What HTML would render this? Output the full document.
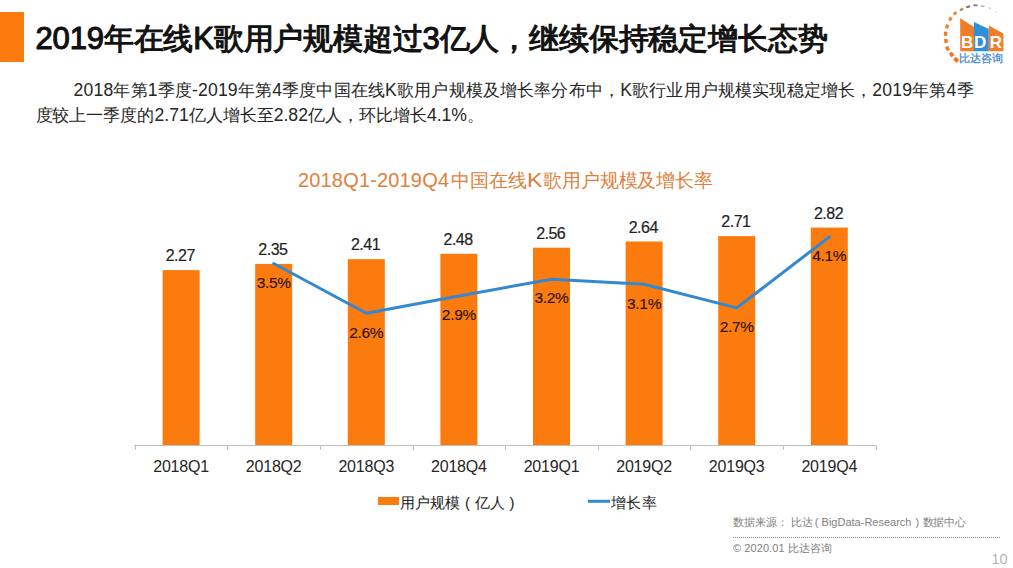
<!DOCTYPE html>
<html><head><meta charset="utf-8"><style>
html,body{margin:0;padding:0;background:#fff;}
body{width:1013px;height:568px;position:relative;overflow:hidden;font-family:"Liberation Sans",sans-serif;}
svg{position:absolute;left:0;top:0;}
text{font-family:"Liberation Sans",sans-serif;white-space:pre;}
.title{font-size:30px;fill:#111;stroke:#111;stroke-width:1.1px;}
.sub{font-size:17px;fill:#262626;}
.ctitle{font-size:19px;fill:#E07F3C;}
.vl{font-size:16px;fill:#1e1e1e;stroke:#1e1e1e;stroke-width:0.2px;text-anchor:middle;letter-spacing:-0.5px;}
.pl{font-size:15.5px;fill:#2b1408;stroke:#2b1408;stroke-width:0.12px;text-anchor:middle;letter-spacing:-0.3px;}
.al{font-size:16px;fill:#262626;text-anchor:middle;letter-spacing:-0.2px;}
.leg{font-size:15px;fill:#222;}
.foot{font-size:11px;fill:#808080;}
.pg{font-size:13px;fill:#B3B3B3;}
</style></head><body>
<svg width="1013" height="568" viewBox="0 0 1013 568">
<rect x="0" y="12" width="24" height="50" fill="#FC7B0E"/>
<text class="title" x="35.5" y="48.6" textLength="792" lengthAdjust="spacing"><tspan style="font-size:31px">2019</tspan>年在线<tspan style="font-size:31px">K</tspan>歌用户规模超过<tspan style="font-size:31px">3</tspan>亿人，继续保持稳定增长态势</text>
<text class="sub" x="73.5" y="95.7" textLength="900" lengthAdjust="spacing"><tspan style="font-size:17.6px">2018</tspan>年第<tspan style="font-size:17.6px">1</tspan>季度<tspan style="font-size:17.6px">-2019</tspan>年第<tspan style="font-size:17.6px">4</tspan>季度中国在线<tspan style="font-size:17.6px">K</tspan>歌用户规模及增长率分布中，<tspan style="font-size:17.6px">K</tspan>歌行业用户规模实现稳定增长，<tspan style="font-size:17.6px">2019</tspan>年第<tspan style="font-size:17.6px">4</tspan>季</text>
<text class="sub" x="35.5" y="120.9" textLength="448.5" lengthAdjust="spacing">度较上一季度的<tspan style="font-size:17.6px">2.71</tspan>亿人增长至<tspan style="font-size:17.6px">2.82</tspan>亿人，环比增长<tspan style="font-size:17.6px">4.1%</tspan>。</text>
<text class="ctitle" x="298" y="187.1" style="font-size:20px" textLength="151" lengthAdjust="spacing">2018Q1-2019Q4</text>
<text class="ctitle" x="450.5" y="187.1" textLength="76" lengthAdjust="spacing">中国在线</text>
<text class="ctitle" x="527" y="187.1" style="font-size:20px" textLength="15.5" lengthAdjust="spacingAndGlyphs">K</text>
<text class="ctitle" x="543" y="187.1" textLength="170" lengthAdjust="spacing">歌用户规模及增长率</text>
<rect x="162.6" y="270.1" width="37" height="175.2" fill="#FC7B0E"/>
<rect x="255.2" y="263.9" width="37" height="181.4" fill="#FC7B0E"/>
<rect x="347.8" y="259.2" width="37" height="186.1" fill="#FC7B0E"/>
<rect x="440.4" y="253.8" width="37" height="191.5" fill="#FC7B0E"/>
<rect x="533.0" y="247.7" width="37" height="197.6" fill="#FC7B0E"/>
<rect x="625.6" y="241.5" width="37" height="203.8" fill="#FC7B0E"/>
<rect x="718.2" y="236.1" width="37" height="209.2" fill="#FC7B0E"/>
<rect x="810.8" y="227.6" width="37" height="217.7" fill="#FC7B0E"/>
<line x1="134" y1="445.5" x2="876.5" y2="445.5" stroke="#BFBFBF" stroke-width="1"/>
<line x1="135.5" y1="445" x2="135.5" y2="450" stroke="#BFBFBF" stroke-width="1"/>
<line x1="227.5" y1="445" x2="227.5" y2="450" stroke="#BFBFBF" stroke-width="1"/>
<line x1="320.5" y1="445" x2="320.5" y2="450" stroke="#BFBFBF" stroke-width="1"/>
<line x1="413.5" y1="445" x2="413.5" y2="450" stroke="#BFBFBF" stroke-width="1"/>
<line x1="505.5" y1="445" x2="505.5" y2="450" stroke="#BFBFBF" stroke-width="1"/>
<line x1="598.5" y1="445" x2="598.5" y2="450" stroke="#BFBFBF" stroke-width="1"/>
<line x1="690.5" y1="445" x2="690.5" y2="450" stroke="#BFBFBF" stroke-width="1"/>
<line x1="783.5" y1="445" x2="783.5" y2="450" stroke="#BFBFBF" stroke-width="1"/>
<line x1="876.5" y1="445" x2="876.5" y2="450" stroke="#BFBFBF" stroke-width="1"/>
<polyline points="273.7,263.5 366.3,313.3 458.9,296 551.5,279.2 644.1,284.2 736.7,307.9 829.3,237" fill="none" stroke="#3389D0" stroke-width="3" stroke-linejoin="round" stroke-linecap="round"/>
<text x="180.3" y="261.1" class="vl">2.27</text>
<text x="272.9" y="254.9" class="vl">2.35</text>
<text x="365.5" y="250.2" class="vl">2.41</text>
<text x="458.1" y="244.8" class="vl">2.48</text>
<text x="550.7" y="238.7" class="vl">2.56</text>
<text x="643.3" y="232.5" class="vl">2.64</text>
<text x="735.9" y="227.1" class="vl">2.71</text>
<text x="828.5" y="218.6" class="vl">2.82</text>
<text x="273.7" y="287.8" class="pl">3.5%</text>
<text x="366.3" y="338.0" class="pl">2.6%</text>
<text x="458.9" y="319.6" class="pl">2.9%</text>
<text x="551.5" y="303.2" class="pl">3.2%</text>
<text x="644.1" y="309.2" class="pl">3.1%</text>
<text x="736.7" y="332.4" class="pl">2.7%</text>
<text x="829.3" y="260.6" class="pl">4.1%</text>
<text x="181.1" y="472" class="al">2018Q1</text>
<text x="273.7" y="472" class="al">2018Q2</text>
<text x="366.3" y="472" class="al">2018Q3</text>
<text x="458.9" y="472" class="al">2018Q4</text>
<text x="551.5" y="472" class="al">2019Q1</text>
<text x="644.1" y="472" class="al">2019Q2</text>
<text x="736.7" y="472" class="al">2019Q3</text>
<text x="829.3" y="472" class="al">2019Q4</text>
<rect x="378" y="497" width="21" height="8" fill="#FC7B0E"/>
<line x1="588" y1="501.3" x2="610" y2="501.3" stroke="#3389D0" stroke-width="3"/>
<text class="leg" x="400" y="507.5">用户规模</text>
<text class="leg" x="465" y="507.5">(</text>
<text class="leg" x="475" y="507.5">亿人</text>
<text class="leg" x="509.6" y="507.5">)</text>
<text class="leg" x="610.5" y="507.5" textLength="46" lengthAdjust="spacing">增长率</text>
<text class="foot" x="733" y="525.5">数据来源： 比达</text>
<text class="foot" x="814.8" y="525.5">(</text>
<text class="foot" x="821.6" y="525.5">BigData-Research</text>
<text class="foot" x="915.6" y="525.5">)</text>
<text class="foot" x="922.5" y="525.5" textLength="43" lengthAdjust="spacing">数据中心</text>
<line x1="733" y1="537.5" x2="1001" y2="537.5" stroke="#8c8c8c" stroke-width="1" stroke-dasharray="1,1"/>
<text class="foot" x="733" y="552" textLength="99" lengthAdjust="spacing">© 2020.01 比达咨询</text>
<text class="pg" x="991.5" y="563.5" style="font-size:15px" textLength="16" lengthAdjust="spacingAndGlyphs">10</text>
<g id="logo">
<rect x="-2.40" y="-2.00" width="4.80" height="4.00" rx="0.6" fill="#F07820" opacity="1" transform="translate(956.20,59.80) rotate(220.3)"/>
<rect x="-2.30" y="-1.90" width="4.60" height="3.80" rx="0.6" fill="#F07820" opacity="1" transform="translate(951.60,54.50) rotate(233.3)"/>
<rect x="-2.20" y="-1.80" width="4.40" height="3.60" rx="0.6" fill="#F07A22" opacity="1" transform="translate(947.50,48.50) rotate(246.6)"/>
<rect x="-2.10" y="-1.75" width="4.20" height="3.50" rx="0.6" fill="#F07C26" opacity="1" transform="translate(946.00,40.90) rotate(260.8)"/>
<rect x="-2.10" y="-1.70" width="4.20" height="3.40" rx="0.6" fill="#F07C28" opacity="1" transform="translate(945.60,33.70) rotate(-85.7)"/>
<rect x="-2.00" y="-1.65" width="4.00" height="3.30" rx="0.6" fill="#EE8030" opacity="1" transform="translate(947.10,26.50) rotate(-72.0)"/>
<rect x="-1.90" y="-1.60" width="3.80" height="3.20" rx="0.6" fill="#E8863A" opacity="1" transform="translate(950.40,19.00) rotate(-56.8)"/>
<rect x="-1.80" y="-1.50" width="3.60" height="3.00" rx="0.6" fill="#D98C4C" opacity="1" transform="translate(955.10,13.30) rotate(-43.2)"/>
<rect x="-1.80" y="-1.35" width="3.60" height="2.70" rx="0.6" fill="#C88E5E" opacity="1" transform="translate(961.60,9.50) rotate(-29.2)"/>
<rect x="-2.10" y="-1.10" width="4.20" height="2.20" rx="0.6" fill="#907466" opacity="1" transform="translate(968.10,6.80) rotate(-15.9)"/>
<rect x="-2.10" y="-1.00" width="4.20" height="2.00" rx="0.6" fill="#858585" opacity="1" transform="translate(975.50,5.30) rotate(-1.7)"/>
<rect x="-1.90" y="-0.85" width="3.80" height="1.70" rx="0.6" fill="#B5B5B5" opacity="1" transform="translate(982.70,6.20) rotate(11.9)"/>
<rect x="-1.60" y="-0.80" width="3.20" height="1.60" rx="0.6" fill="#D5D5D5" opacity="1" transform="translate(989.80,8.30) rotate(25.8)"/>
<rect x="-1.50" y="-0.75" width="3.00" height="1.50" rx="0.6" fill="#E6E6E6" opacity="1" transform="translate(996.30,11.80) rotate(39.4)"/>
<polygon points="960.2,18.3 974,27 974,51.2 960.2,51.2" fill="#F07D28"/>
<polygon points="974,21.9 988.8,29 988.8,51.2 974,51.2" fill="#2E8FDB"/>
<polygon points="988.8,25.5 1003.4,33.4 1003.4,51.2 988.8,51.2" fill="#F07D28"/>
<text x="961" y="48" font-size="17" font-weight="bold" fill="#fff">B</text><text x="974" y="48" font-size="17" font-weight="bold" fill="#fff">D</text><text x="989.8" y="48" font-size="17" font-weight="bold" fill="#fff">R</text>
<text x="981.3" y="62.4" font-size="10.5" fill="#3F86CF" stroke="#3F86CF" stroke-width="0.25" text-anchor="middle">比达咨询</text>
</g>
</svg>
</body></html>
